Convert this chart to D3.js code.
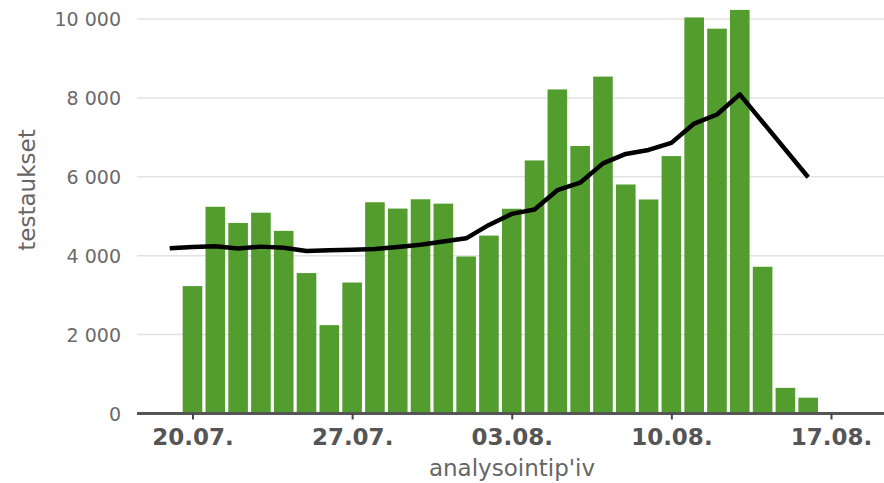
<!DOCTYPE html>
<html>
<head>
<meta charset="utf-8">
<script src="https://cdn.jsdelivr.net/npm/d3@7"></script>
<style>
  html, body { margin: 0; padding: 0; background: #fff; }
  svg { display: block; font-family: "DejaVu Sans", sans-serif; }
</style>
</head>
<body>
<svg id="chart" width="884" height="483"></svg>
<script>
// ---- data ----
const barDates = ["2020-07-20","2020-07-21","2020-07-22","2020-07-23","2020-07-24","2020-07-25","2020-07-26",
  "2020-07-27","2020-07-28","2020-07-29","2020-07-30","2020-07-31","2020-08-01","2020-08-02",
  "2020-08-03","2020-08-04","2020-08-05","2020-08-06","2020-08-07","2020-08-08","2020-08-09",
  "2020-08-10","2020-08-11","2020-08-12","2020-08-13","2020-08-14","2020-08-15","2020-08-16"];
const tests = [3230, 5240, 4830, 5090, 4630, 3560, 2240, 3320, 5355, 5195, 5430, 5320, 3980, 4510,
  5190, 6415, 8215, 6780, 8540, 5805, 5425, 6525, 10040, 9755, 10230, 3720, 650, 400];
const avgDates = ["2020-07-19","2020-07-20","2020-07-21","2020-07-22","2020-07-23","2020-07-24","2020-07-25",
  "2020-07-26","2020-07-27","2020-07-28","2020-07-29","2020-07-30","2020-07-31","2020-08-01",
  "2020-08-02","2020-08-03","2020-08-04","2020-08-05","2020-08-06","2020-08-07","2020-08-08",
  "2020-08-09","2020-08-10","2020-08-11","2020-08-12","2020-08-13","2020-08-16"];
const avgTests = [4190, 4220, 4240, 4180, 4230, 4200, 4120, 4140, 4150, 4170, 4220, 4280, 4360, 4440,
  4780, 5060, 5170, 5660, 5850, 6340, 6580, 6680, 6860, 7350, 7580, 8090, 5990];
const yTicks = [0, 2000, 4000, 6000, 8000, 10000];
const xTitle = "analysointip'iv";
const yTitle = "testaukset";

// ---- layout ----
const parse = d3.utcParse("%Y-%m-%d");
const svg = d3.select("#chart");
const plotLeft = 137, plotRight = 884, plotTop = 19, plotBottom = 413.5;

const x0 = d3.scaleUtc().domain([parse("2020-07-20"), parse("2020-08-17")]).range([192.5, 831]);
const x = d3.scaleUtc().domain([x0.invert(plotLeft), x0.invert(plotRight)]).range([plotLeft, plotRight]);
const dayW = x0(parse("2020-07-21")) - x0(parse("2020-07-20"));
const barW = dayW * 0.86;

const y = d3.scaleLinear().domain([0, 10000]).range([plotBottom, plotTop]);

// gridlines
svg.append("g")
  .selectAll("line").data(yTicks.filter(d => d > 0)).join("line")
  .attr("x1", plotLeft).attr("x2", plotRight)
  .attr("y1", d => y(d)).attr("y2", d => y(d))
  .attr("stroke", "#e3e3e3").attr("stroke-width", 1.5);

// y axis labels
const yAxis = d3.axisLeft(y).tickValues(yTicks).tickSize(0).tickPadding(0)
  .tickFormat(d => d3.format(",")(d).replace(/,/g, "\u00a0"));
const gy = svg.append("g").attr("transform", `translate(121,0)`).call(yAxis);
gy.select(".domain").remove();
gy.selectAll("text").attr("fill", "#6a6a6a").attr("font-size", 19).attr("font-family", "DejaVu Sans")
  .attr("dy", "0.36em");

// bars
svg.append("g")
  .selectAll("rect").data(tests).join("rect")
  .attr("x", (d, i) => x(parse(barDates[i])) - barW / 2)
  .attr("width", barW)
  .attr("y", d => y(d))
  .attr("height", d => y(0) - y(d))
  .attr("fill", "#539d2f");

// x axis
const xAxis = d3.axisBottom(x).ticks(d3.utcMonday.every(1)).tickFormat(d3.utcFormat("%d.%m."))
  .tickSize(6).tickPadding(9);
const gx = svg.append("g").attr("transform", `translate(0,${plotBottom})`).call(xAxis);
gx.select(".domain").attr("stroke", "#555").attr("stroke-width", 3)
  .attr("d", `M${plotLeft},0H${plotRight}`);
gx.selectAll(".tick line").attr("stroke", "#444").attr("stroke-width", 2);
gx.selectAll("text").attr("fill", "#555").attr("font-size", 23).attr("font-weight", "bold")
  .attr("font-family", "DejaVu Sans");

// moving average line
const line = d3.line()
  .x((d, i) => x(parse(avgDates[i])))
  .y(d => y(d));
svg.append("path").datum(avgTests)
  .attr("d", line)
  .attr("fill", "none").attr("stroke", "#000").attr("stroke-width", 4.5)
  .attr("stroke-linejoin", "round");

// titles
svg.append("text").attr("x", 512).attr("y", 476).attr("text-anchor", "middle")
  .attr("fill", "#666").attr("font-size", 23).text(xTitle);
svg.append("text").attr("transform", "translate(35,190) rotate(-90)").attr("text-anchor", "middle")
  .attr("fill", "#666").attr("font-size", 23).text(yTitle);
</script>
</body>
</html>
